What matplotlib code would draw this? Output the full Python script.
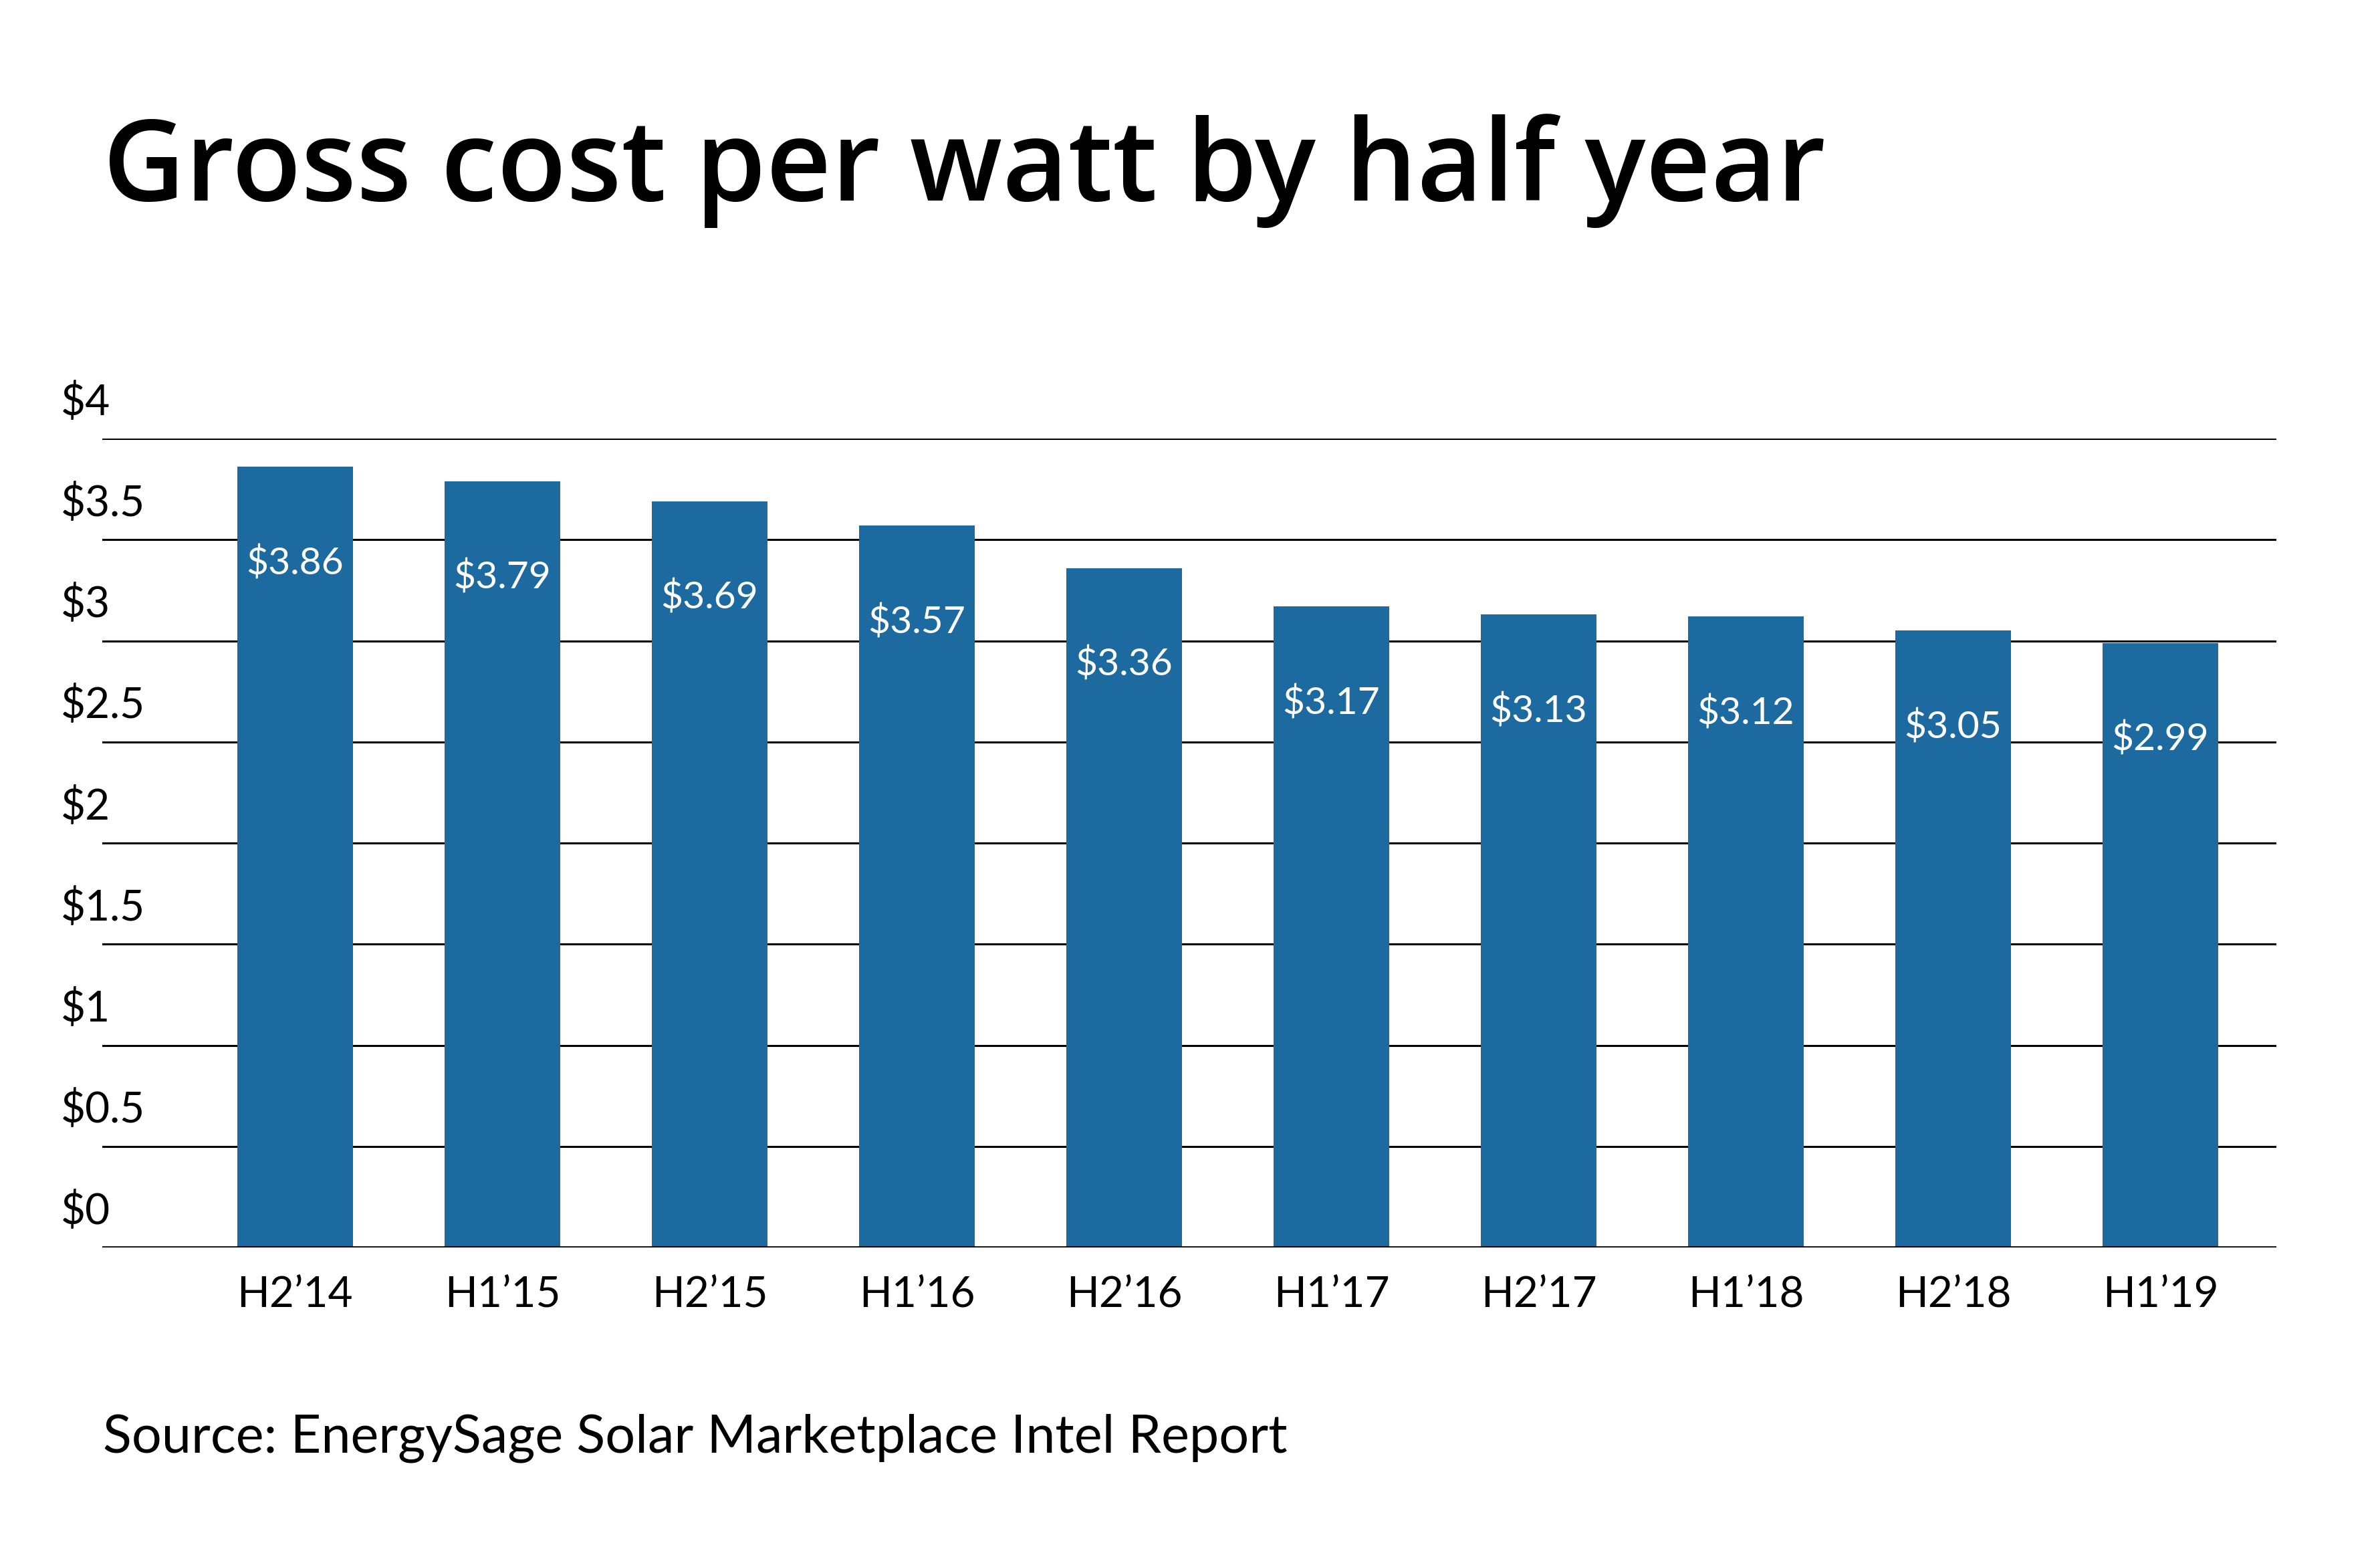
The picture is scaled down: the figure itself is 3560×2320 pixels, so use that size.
import matplotlib
matplotlib.use('Agg')
import matplotlib.pyplot as plt
from matplotlib import transforms

# data
periods = ["H2\u201914", "H1\u201915", "H2\u201915", "H1\u201916", "H2\u201916",
           "H1\u201917", "H2\u201917", "H1\u201918", "H2\u201918", "H1\u201919"]
cost_per_watt = [3.86, 3.79, 3.69, 3.57, 3.36, 3.17, 3.13, 3.12, 3.05, 2.99]
y_ticks = [0, 0.5, 1, 1.5, 2, 2.5, 3, 3.5, 4]
y_tick_labels = ["$0", "$0.5", "$1", "$1.5", "$2", "$2.5", "$3", "$3.5", "$4"]

BAR_COLOR = '#1c6a9f'
FONT = 'Lato'

plt.rcParams['font.family'] = [FONT, 'DejaVu Sans']

fig = plt.figure(figsize=(35.6, 23.2), dpi=100)
ax = fig.add_axes([0.043, 0.1957, 0.9135, 0.5215])

x = list(range(len(periods)))

# gridlines behind the bars
for t in y_ticks[1:]:
    ax.axhline(t, color='black', linewidth=2.2, zorder=1)

ax.bar(x, cost_per_watt, width=0.56, color=BAR_COLOR, zorder=2)
ax.axhline(0, color='black', linewidth=2.6, zorder=3)

# value labels inside the bar tops
for xi, v in zip(x, cost_per_watt):
    ax.annotate(f"${v:.2f}", xy=(xi, v), xytext=(0, -104),
                textcoords='offset points', ha='center', va='center',
                color='white', fontsize=41, zorder=4)

ax.set_xlim(-0.93, 9.56)
ax.set_ylim(0, 4)

ax.set_xticks(x)
ax.set_xticklabels(periods, fontsize=46)
ax.tick_params(axis='x', length=0, pad=30)
ax.set_yticks([])
for s in ax.spines.values():
    s.set_visible(False)

# y labels sit above their gridlines, flush left
trans = transforms.blended_transform_factory(fig.transFigure, ax.transData)
for t, lab in zip(y_ticks, y_tick_labels):
    ax.text(0.0256, t + 0.18, lab, transform=trans, ha='left', va='center',
            fontsize=46, color='black')

fig.text(0.0433, 0.8707, "Gross cost per watt by half year", ha='left',
         va='baseline', fontsize=122, color='black', fontweight='semibold',
         family=['Open Sans', 'DejaVu Sans'])
fig.text(0.0433, 0.0638, "Source: EnergySage Solar Marketplace Intel Report",
         ha='left', va='baseline', fontsize=57, color='black')

fig.savefig('out.png', dpi=100, facecolor='white')
